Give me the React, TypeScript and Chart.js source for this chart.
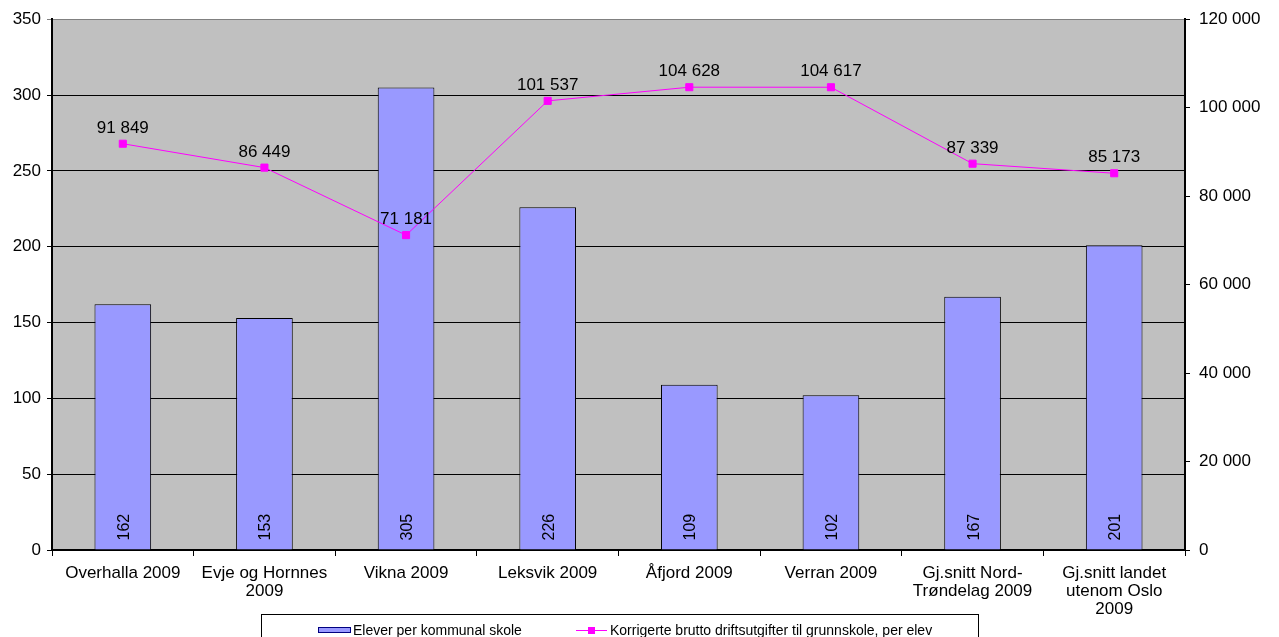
import React, { useEffect, useRef } from "react";
import { Chart, registerables } from "chart.js";

Chart.register(...registerables);

const categories: string[][] = [
  ["Overhalla 2009"],
  ["Evje og Hornnes", "2009"],
  ["Vikna 2009"],
  ["Leksvik 2009"],
  ["Åfjord 2009"],
  ["Verran 2009"],
  ["Gj.snitt Nord-", "Trøndelag 2009"],
  ["Gj.snitt landet", "utenom Oslo", "2009"],
];
const elever: number[] = [162, 153, 305, 226, 109, 102, 167, 201];
const utgifter: number[] = [91849, 86449, 71181, 101537, 104628, 104617, 87339, 85173];
const barLabel = "Elever per kommunal skole";
const lineLabel = "Korrigerte brutto driftsutgifter til grunnskole, per elev";

const FONT = "'Liberation Sans', Arial, sans-serif";

const fmt = (v: number) => {
  const s = Math.round(v).toString();
  return s.replace(/\B(?=(\d{3})+(?!\d))/g, " ");
};

const bgPlugin = {
  id: "bgPlugin",
  beforeDraw(chart: any) {
    const { ctx, chartArea } = chart;
    ctx.save();
    ctx.fillStyle = "#C0C0C0";
    ctx.fillRect(chartArea.left, chartArea.top, chartArea.right - chartArea.left, chartArea.bottom - chartArea.top);
    ctx.restore();
  },
};

const labelPlugin = {
  id: "labelPlugin",
  afterDraw(chart: any) {
    const { ctx } = chart;
    ctx.save();
    // bar labels
    const barMeta = chart.getDatasetMeta(0);
    ctx.fillStyle = "#000";
    ctx.font = `16px ${FONT}`;
    barMeta.data.forEach((el: any, i: number) => {
      ctx.save();
      ctx.translate(el.x + 6, el.base - 9);
      ctx.rotate(-Math.PI / 2);
      ctx.textAlign = "left";
      ctx.textBaseline = "alphabetic";
      ctx.fillText(String(elever[i]), 0, 0);
      ctx.restore();
    });
    // line labels
    const lineMeta = chart.getDatasetMeta(1);
    ctx.font = `17px ${FONT}`;
    ctx.textAlign = "center";
    ctx.textBaseline = "alphabetic";
    lineMeta.data.forEach((el: any, i: number) => {
      ctx.fillText(fmt(utgifter[i]), el.x, el.y - 11);
    });
    // legend
    const lx = 261, ly = 614, lw = 717, lh = 30;
    ctx.strokeStyle = "#000";
    ctx.lineWidth = 1;
    ctx.strokeRect(lx + 0.5, ly + 0.5, lw, lh);
    ctx.fillStyle = "#9999FF";
    ctx.fillRect(318, 627, 32, 5);
    ctx.strokeStyle = "#000080";
    ctx.strokeRect(318.5, 627.5, 32, 5);
    ctx.strokeStyle = "#FF00FF";
    ctx.beginPath();
    ctx.moveTo(576, 630.5);
    ctx.lineTo(607, 630.5);
    ctx.stroke();
    ctx.fillStyle = "#FF00FF";
    ctx.fillRect(588, 627, 7, 7);
    ctx.fillStyle = "#000";
    ctx.font = `14px ${FONT}`;
    ctx.textAlign = "left";
    ctx.textBaseline = "middle";
    ctx.fillText(barLabel, 353, 631);
    ctx.fillText(lineLabel, 610, 631);
    ctx.restore();
  },
};

export default function App() {
  const ref = useRef<HTMLCanvasElement | null>(null);
  useEffect(() => {
    if (!ref.current) return;
    const chart = new Chart(ref.current, {
      type: "bar",
      data: {
        labels: categories,
        datasets: [
          {
            type: "bar",
            label: barLabel,
            data: elever,
            backgroundColor: "#9999FF",
            borderColor: "#000000",
            borderWidth: 1,
            categoryPercentage: 1,
            barPercentage: 0.4,
            yAxisID: "y",
            order: 2,
          } as any,
          {
            type: "line",
            label: lineLabel,
            data: utgifter,
            borderColor: "#FF00FF",
            backgroundColor: "#FF00FF",
            borderWidth: 1,
            pointStyle: "rect",
            pointRadius: 5,
            pointBackgroundColor: "#FF00FF",
            pointBorderColor: "#FF00FF",
            yAxisID: "y1",
            order: 1,
          } as any,
        ],
      },
      options: {
        responsive: false,
        animation: false,
        layout: { padding: { top: 2 } },
        plugins: {
          legend: { display: false },
          tooltip: { enabled: false },
        },
        scales: {
          x: {
            offset: true,
            grid: {
              offset: true,
              drawOnChartArea: false,
              drawTicks: true,
              tickLength: 6,
              color: "#000",
            },
            border: { color: "#000", width: 2 },
            ticks: {
              color: "#000",
              font: { family: FONT, size: 17, lineHeight: 1.06 },
              maxRotation: 0,
              autoSkip: false,
              padding: 8,
            },
            afterFit(scale: any) {
              scale.height = 87;
            },
          },
          y: {
            position: "left",
            min: 0,
            max: 350,
            ticks: {
              stepSize: 50,
              color: "#000",
              font: { family: FONT, size: 17 },
              padding: 6,
            },
            grid: {
              color: (c: any) => (c.tick && c.tick.value === 350 ? "#808080" : "#000"),
              tickLength: 5,
              lineWidth: 1,
            },
            border: { color: "#000", width: 2 },
            afterFit(scale: any) {
              scale.width = 52;
            },
          },
          y1: {
            position: "right",
            min: 0,
            max: 120000,
            ticks: {
              stepSize: 20000,
              color: "#000",
              font: { family: FONT, size: 17 },
              padding: 9,
              callback: (v: any) => fmt(Number(v)),
            },
            grid: {
              drawOnChartArea: false,
              tickLength: 5,
              color: "#000",
            },
            border: { color: "#000", width: 2 },
            afterFit(scale: any) {
              scale.width = 94;
            },
          },
        },
      },
      plugins: [bgPlugin, labelPlugin],
    });
    return () => chart.destroy();
  }, []);
  return (
    <div style={{ position: "absolute", left: 0, top: 0, width: 1279, height: 637, background: "#fff" }}>
      <canvas ref={ref} width={1279} height={637} style={{ display: "block", width: 1279, height: 637 }} />
    </div>
  );
}
